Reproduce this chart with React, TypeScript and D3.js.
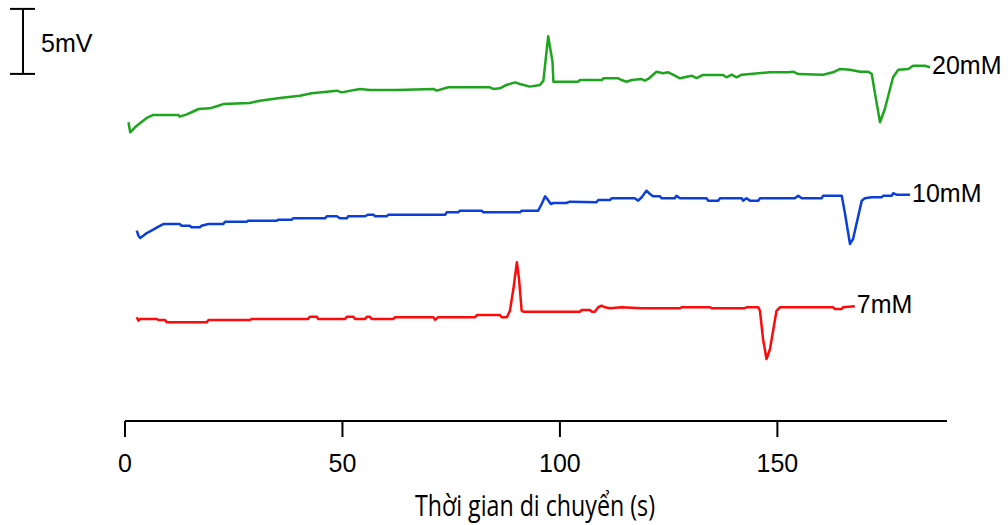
import React from 'react';
import * as d3 from 'd3';

// time (s) and stacked potential (mV)
const greenT = [0.8, 1.2, 2.3, 3.5, 5.0, 6.5, 12.3, 12.6, 14.2, 15.3, 16.9, 19.5, 21.1, 22.6, 28.7, 31.0, 35.6, 40.2, 42.9, 48.7, 49.8, 54.0, 56.3, 62.5, 70.9, 71.7, 74.3, 83.9, 84.7, 86.2, 87.7, 89.7, 90.8, 93.1, 95.4, 96.2, 97.3, 98.3, 98.5, 102.3,
  104.2, 104.6, 109.6, 110.0, 113.4, 114.2, 115.3, 116.5, 118.8, 119.5, 120.3, 122.2, 123.7, 124.9, 126.0, 127.6, 130.3, 131.4, 132.9, 137.5, 138.3, 139.5, 140.6, 141.8, 148.3, 152.5, 153.6, 154.8, 160.5, 162.8, 164.4, 166.7, 169.0, 170.9, 171.7, 172.4, 173.6, 174.7, 176.6, 177.8, 180.1, 181.2, 183.9, 185.1];
const greenV = [22.98, 22.21, 22.59, 22.92, 23.31, 23.54, 23.54, 23.41, 23.59, 23.75, 24.0, 24.05, 24.21, 24.38, 24.46, 24.64, 24.85, 25.02, 25.21, 25.41, 25.28, 25.54, 25.46, 25.46, 25.54, 25.41, 25.67, 25.67, 25.54, 25.59, 25.85, 26.05, 25.92, 25.72, 25.85, 26.18, 29.59, 27.62, 26.1, 26.1,
  26.1, 26.23, 26.23, 26.36, 26.36, 26.23, 26.1, 26.23, 26.31, 26.18, 26.31, 26.87, 26.75, 26.82, 26.64, 26.36, 26.56, 26.38, 26.62, 26.62, 26.44, 26.64, 26.44, 26.64, 26.82, 26.82, 26.87, 26.69, 26.64, 26.82, 27.08, 27.02, 26.87, 26.87, 26.69, 25.28, 22.98, 24.0, 26.44, 27.02, 27.08, 27.33, 27.33, 27.21];

const blueT = [2.7, 3.1, 3.5, 4.2, 5.0, 6.5, 7.7, 8.8, 12.6, 13.0, 14.9, 15.3, 17.2, 17.6, 19.2, 22.6, 23.0, 28.0, 28.3, 34.9, 35.2, 38.3, 38.7, 46.0, 46.4, 48.7, 49.4, 51.0, 51.3, 55.2, 55.9, 57.1, 57.5, 60.2, 60.5, 73.6, 74.0, 76.6, 77.0, 82.0, 82.4, 90.8, 91.2, 95.0, 95.8, 96.6, 97.1, 97.9, 98.5, 101.5, 102.3,
  108.4, 108.8, 111.5, 111.9, 117.2, 118.0, 118.8, 119.9, 120.7, 121.4, 123.0, 123.4, 126.4, 126.8, 127.6, 133.7, 134.1, 136.4, 136.8, 141.8, 142.1, 142.9, 143.7, 145.6, 146.0, 154.0, 154.8, 155.6, 160.2, 160.5, 164.8, 165.5, 166.7, 167.4, 169.4, 170.1, 171.7, 174.0, 174.3, 176.3, 176.6, 177.4, 180.5];
const blueV = [14.64, 14.25, 14.08, 14.25, 14.46, 14.72, 14.95, 15.15, 15.15, 15.02, 15.02, 14.9, 14.9, 15.02, 15.15, 15.15, 15.33, 15.33, 15.41, 15.41, 15.48, 15.48, 15.59, 15.59, 15.75, 15.75, 15.59, 15.59, 15.75, 15.75, 15.87, 15.87, 15.75, 15.75, 15.87, 15.87, 16.05, 16.05, 16.18, 16.18, 16.05, 16.05, 16.18, 16.18, 16.69, 17.28, 17.08, 16.69, 16.77, 16.77, 16.87,
  16.82, 17.0, 17.0, 17.13, 17.13, 16.95, 17.21, 17.72, 17.46, 17.28, 17.28, 17.13, 17.13, 17.33, 17.13, 17.13, 16.95, 16.95, 17.13, 17.13, 16.95, 17.13, 16.95, 16.95, 17.13, 17.13, 17.33, 17.13, 17.13, 17.33, 17.33, 16.05, 13.62, 14.0, 16.95, 17.13, 17.21, 17.21, 17.33, 17.33, 17.52, 17.41, 17.41];

const redT = [2.7, 3.1, 3.5, 7.3, 7.7, 9.2, 9.6, 18.8, 19.2, 28.7, 29.1, 42.1, 42.5, 44.1, 44.4, 50.6, 51.0, 52.5, 52.9, 55.2, 55.6, 56.3, 56.7, 61.7, 62.1, 70.9, 71.3, 72.0, 80.5, 80.9, 86.2, 86.6, 87.8, 88.5, 89.3, 90.1, 90.6, 91.2, 91.6, 102.3,
  104.6, 105.0, 106.9, 107.3, 108.0, 108.8, 109.6, 110.3, 111.5, 114.2, 118.8, 127.6, 128.0, 134.5, 134.9, 142.5, 142.9, 145.6, 146.0, 146.7, 147.5, 148.3, 149.8, 150.6, 162.8, 163.2, 164.8, 165.1, 167.8];
const redV = [7.98, 7.72, 7.85, 7.85, 7.77, 7.77, 7.59, 7.59, 7.77, 7.77, 7.85, 7.85, 8.02, 8.02, 7.85, 7.85, 8.02, 8.02, 7.85, 7.85, 8.02, 8.02, 7.85, 7.85, 7.98, 7.98, 7.79, 7.98, 7.98, 8.15, 8.15, 7.98, 7.98, 8.48, 10.15, 12.21, 10.92, 8.48, 8.41, 8.41,
  8.41, 8.54, 8.54, 8.41, 8.41, 8.75, 8.87, 8.75, 8.67, 8.75, 8.67, 8.67, 8.75, 8.75, 8.67, 8.67, 8.75, 8.75, 8.48, 6.31, 4.77, 5.54, 8.48, 8.75, 8.75, 8.62, 8.62, 8.75, 8.82];

const seriesNames = ['20mM', '10mM', '7mM'];
const seriesColors = ['#1ea51e', '#0b3fd9', '#ff0a0a'];
const xTicks = [0, 50, 100, 150];
const scaleBar = [26.7, 31.7]; // 5 mV
const xTitle = 'Thời gian di chuyển (s)';

const W = 1008;
const H = 525;

export default function App() {
  const x = d3.scaleLinear().domain([0, 189]).range([125, 947]);
  const y = d3.scaleLinear().domain([0, 32]).range([421, 5]);

  const series = [
    { t: greenT, v: greenV },
    { t: blueT, v: blueV },
    { t: redT, v: redV },
  ].map((s, i) => ({
    name: seriesNames[i],
    color: seriesColors[i],
    pts: s.t.map((t, j) => [t, s.v[j]] as [number, number]),
  }));

  const line = d3.line<[number, number]>()
    .x(d => x(d[0]))
    .y(d => y(d[1]));

  const font = '"Liberation Sans", Arial, sans-serif';
  const axisY = y(0);
  const barX = 23;

  return (
    <svg width={W} height={H} style={{ position: 'absolute', left: 0, top: 0, background: '#fff' }}>
      {/* scale bar */}
      <g stroke="#000" strokeWidth={2}>
        <line x1={barX} x2={barX} y1={y(scaleBar[0])} y2={y(scaleBar[1])} />
        <line x1={barX - 13} x2={barX + 12} y1={y(scaleBar[0])} y2={y(scaleBar[0])} />
        <line x1={barX - 13} x2={barX + 12} y1={y(scaleBar[1])} y2={y(scaleBar[1])} />
      </g>
      <text x={41} y={52} fontFamily={font} fontSize={25} fill="#000">5mV</text>

      {/* traces */}
      {series.map(s => {
        const last = s.pts[s.pts.length - 1];
        return (
          <g key={s.name}>
            <path d={line(s.pts) || ''} fill="none" stroke={s.color} strokeWidth={2.5} strokeLinejoin="round" />
            <text x={x(last[0]) + 2} y={y(last[1]) + 7} fontFamily={font} fontSize={25} fill="#000">{s.name}</text>
          </g>
        );
      })}

      {/* x axis */}
      <line x1={x.range()[0]} x2={x.range()[1]} y1={axisY} y2={axisY} stroke="#000" strokeWidth={2} />
      {xTicks.map(t => (
        <g key={t}>
          <line x1={x(t)} x2={x(t)} y1={axisY} y2={axisY + 16} stroke="#000" strokeWidth={2} />
          <text x={x(t)} y={472} textAnchor="middle" fontFamily={font} fontSize={25} fill="#000">{t}</text>
        </g>
      ))}
      <text x={535} y={516} textAnchor="middle" fontFamily='"Open Sans", sans-serif' fontSize={29}
        textLength={240} lengthAdjust="spacingAndGlyphs" fill="#000">{xTitle}</text>
    </svg>
  );
}
